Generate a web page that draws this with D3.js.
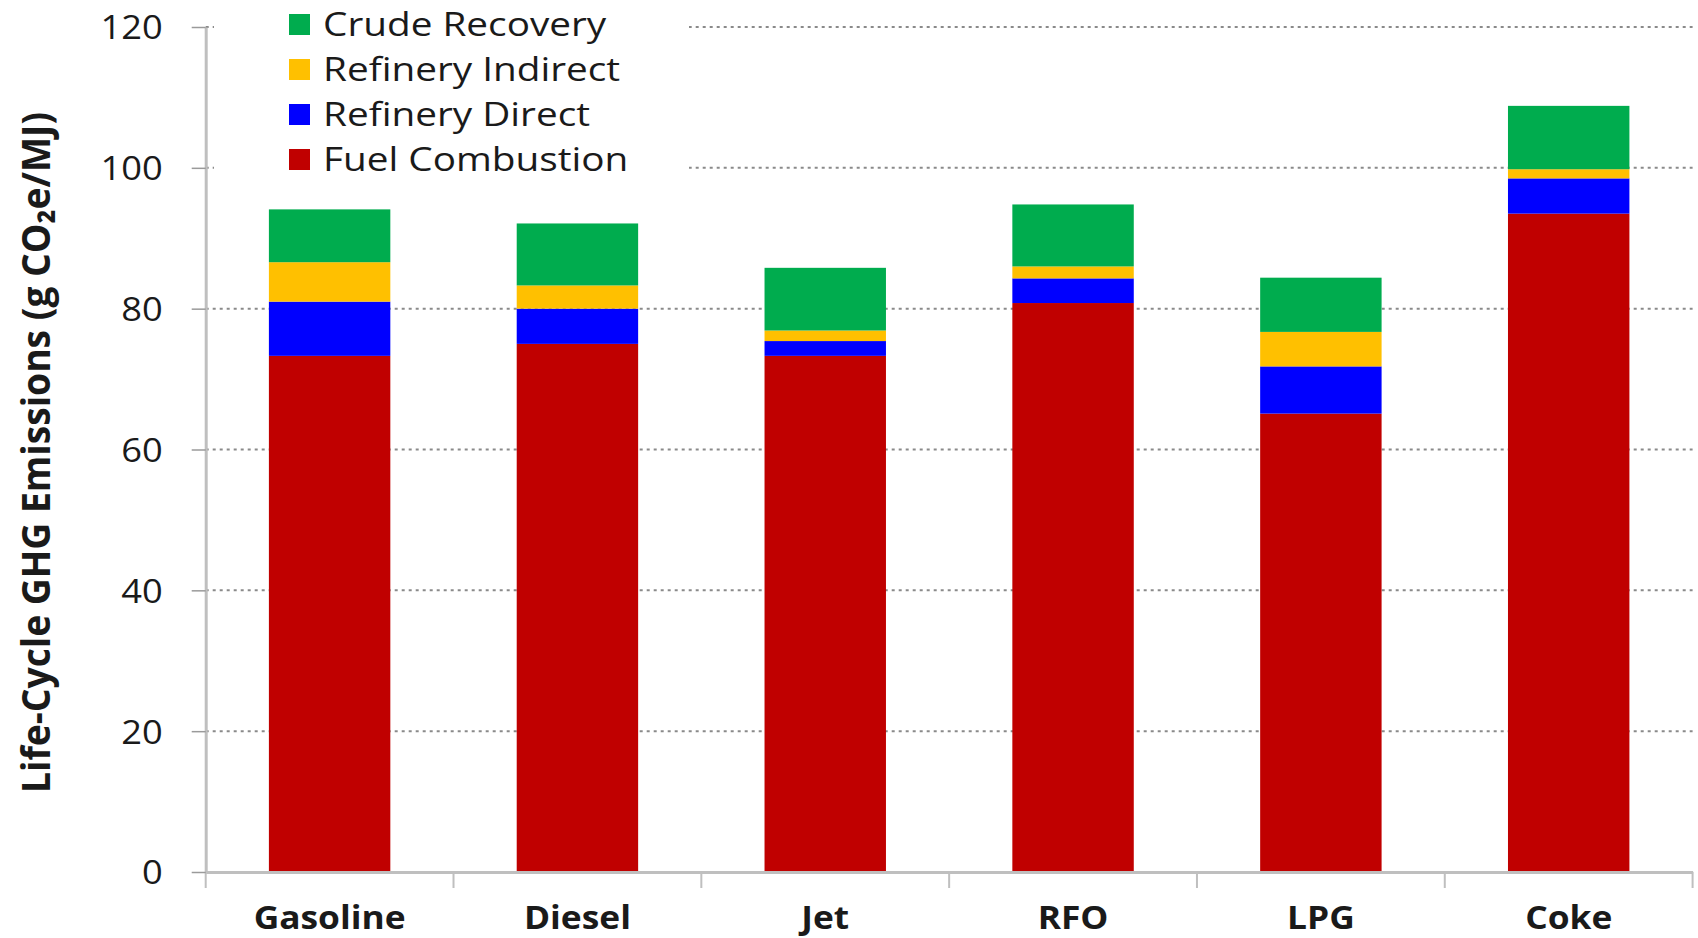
<!DOCTYPE html>
<html>
<head>
<meta charset="utf-8">
<script src="https://cdn.jsdelivr.net/npm/d3@7/dist/d3.min.js"></script>
<style>
  html, body { margin: 0; padding: 0; background: #fff; }
  svg { display: block; }
  text { font-family: "Open Sans", "DejaVu Sans", sans-serif; fill: #1a1a1a; }
</style>
</head>
<body>
<svg id="chart" width="1698" height="938"></svg>
<script>
// Life-cycle GHG emissions by refinery product, g CO2e/MJ
const categories = ["Gasoline", "Diesel", "Jet", "RFO", "LPG", "Coke"];
const fuelCombustion   = [73.3, 75.0, 73.3, 80.8, 65.1, 93.5];
const refineryDirect   = [7.7, 5.0, 2.1, 3.5, 6.7, 5.0];
const refineryIndirect = [5.6, 3.3, 1.5, 1.7, 4.9, 1.3];
const crudeRecovery    = [7.5, 8.8, 8.9, 8.8, 7.7, 9.0];

const seriesNames  = ["Fuel Combustion", "Refinery Direct", "Refinery Indirect", "Crude Recovery"];
const seriesValues = [fuelCombustion, refineryDirect, refineryIndirect, crudeRecovery];
const seriesColors = ["#C00000", "#0000FF", "#FFC000", "#00AC4E"];
const yTicks = [0, 20, 40, 60, 80, 100, 120];
const yLabel = "Life-Cycle GHG Emissions (g CO\u2082e/MJ)";

const svg = d3.select("#chart");

const x = d3.scaleBand().domain(categories).range([205.7, 1692.6]).padding(0);
const y = d3.scaleLinear().domain([0, 120]).range([872, 27]);
const barWidth = x.bandwidth() * 0.49;

// Widen glyphs horizontally by a factor, keeping the text anchor
function stretch(sel, f) {
  sel.each(function () {
    const w = this.getComputedTextLength();
    d3.select(this).attr("textLength", w * f).attr("lengthAdjust", "spacingAndGlyphs");
  });
}

// Dotted horizontal gridlines
svg.append("g")
  .selectAll("line")
  .data(yTicks.filter(d => d > 0))
  .join("line")
  .attr("x1", x.range()[0])
  .attr("x2", x.range()[1])
  .attr("y1", d => y(d))
  .attr("y2", d => y(d))
  .attr("stroke", "#8a8a8a")
  .attr("stroke-width", 2)
  .attr("stroke-dasharray", "3,4");

// Stacked data
const rows = categories.map((c, i) => {
  const r = { category: c };
  seriesNames.forEach((s, j) => { r[s] = seriesValues[j][i]; });
  return r;
});
const stacked = d3.stack().keys(seriesNames)(rows);

svg.append("g")
  .selectAll("g")
  .data(stacked)
  .join("g")
  .attr("fill", (d, i) => seriesColors[i])
  .selectAll("rect")
  .data(d => d)
  .join("rect")
  .attr("x", d => x(d.data.category) + (x.bandwidth() - barWidth) / 2)
  .attr("width", barWidth)
  .attr("y", d => y(d[1]))
  .attr("height", d => y(d[0]) - y(d[1]));

// X axis: baseline, category separators and labels
const xAxis = svg.append("g")
  .attr("transform", `translate(0,${y(0)})`)
  .call(d3.axisBottom(x).tickSize(0).tickSizeOuter(0));
xAxis.select(".domain").attr("stroke", "#bfbfbf").attr("stroke-width", 3);
xAxis.selectAll("text")
  .attr("y", 57)
  .attr("dy", 0)
  .style("font-size", "33px")
  .style("font-weight", "700")
  .style("fill", "#1a1a1a")
  .call(stretch, 1.07);

const bounds = categories.map(c => x(c)).concat([x.range()[1]]);
xAxis.selectAll("line.sep")
  .data(bounds)
  .join("line")
  .attr("class", "sep")
  .attr("x1", d => d).attr("x2", d => d)
  .attr("y1", 0).attr("y2", 16)
  .attr("stroke", "#bfbfbf")
  .attr("stroke-width", 2);

// Y axis
const yAxis = svg.append("g")
  .attr("transform", `translate(${x.range()[0]},0)`)
  .call(d3.axisLeft(y).tickValues(yTicks).tickSize(14).tickSizeOuter(0).tickPadding(29));
yAxis.select(".domain").attr("stroke", "#bfbfbf").attr("stroke-width", 3);
yAxis.selectAll(".tick line").attr("stroke", "#9a9a9a").attr("stroke-width", 1.5);
yAxis.selectAll("text")
  .attr("dy", "0.36em")
  .style("font-size", "33px")
  .style("fill", "#1a1a1a")
  .call(stretch, 1.1);

// Y axis title
svg.append("text")
  .attr("transform", `translate(50,452.5) rotate(-90)`)
  .attr("text-anchor", "middle")
  .style("font-size", "40px")
  .style("font-weight", "700")
  .text(yLabel)
  .attr("textLength", 681)
  .attr("lengthAdjust", "spacingAndGlyphs");

// Legend, top series first
const legend = svg.append("g");
legend.append("rect")
  .attr("x", 214).attr("y", 0)
  .attr("width", 475).attr("height", 186)
  .attr("fill", "#fff");

const legendOrder = seriesNames.map((s, i) => ({ name: s, color: seriesColors[i] })).reverse();
const item = legend.selectAll("g.item")
  .data(legendOrder)
  .join("g")
  .attr("class", "item")
  .attr("transform", (d, i) => `translate(289,${24.5 + i * 45})`);
item.append("rect")
  .attr("x", 0).attr("y", -10.5)
  .attr("width", 21).attr("height", 21)
  .attr("fill", d => d.color);
item.append("text")
  .attr("x", 34)
  .attr("dy", "0.36em")
  .style("font-size", "32px")
  .text(d => d.name)
  .call(stretch, 1.21);
</script>
</body>
</html>
